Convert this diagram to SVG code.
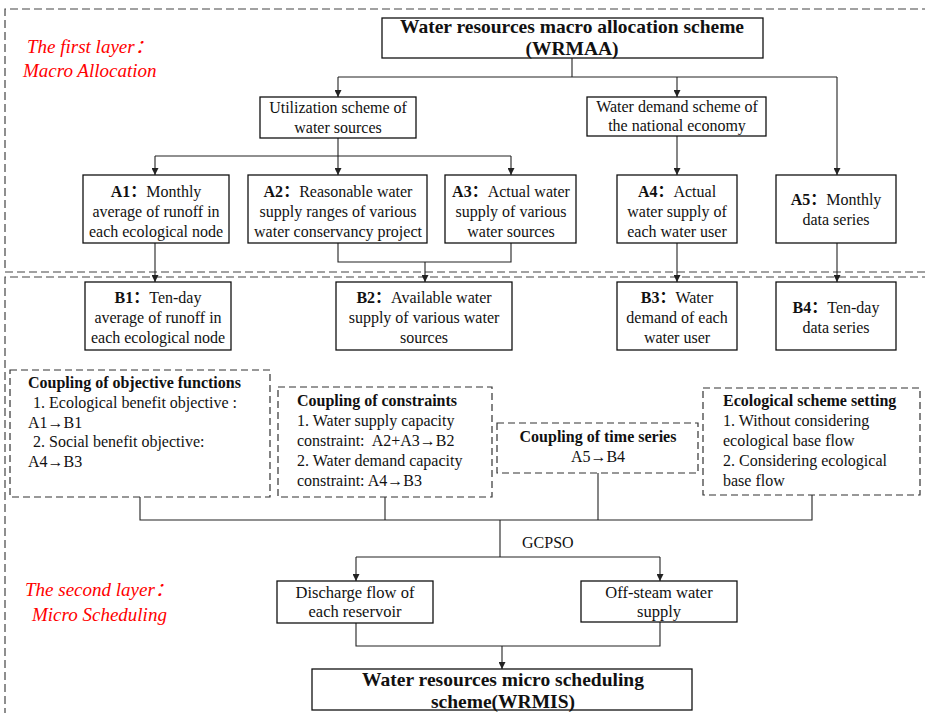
<svg xmlns="http://www.w3.org/2000/svg" width="925" height="713" viewBox="0 0 925 713" font-family="'Liberation Serif', 'Times New Roman', 'DejaVu Serif', serif">
<defs>
<marker id="ah" viewBox="0 0 10 10" refX="10" refY="5" markerWidth="7" markerHeight="7" markerUnits="userSpaceOnUse" orient="auto">
<path d="M0,0 L10,5 L0,10 z" fill="#222"/>
</marker>
<style>
text{fill:#111;}
.t{font-size:16px;text-anchor:middle;}
.l{font-size:16px;}
.s{font-size:16.5px;text-anchor:middle;}
.b{font-weight:bold;}
.cj{font-family:'Noto Sans CJK SC',sans-serif;font-weight:bold;}
.cjn{font-family:'Noto Sans CJK SC',sans-serif;font-weight:normal;}
.h{font-size:19.5px;font-weight:bold;text-anchor:middle;}
.red{font-size:19px;font-style:italic;fill:#f00;}
.box{fill:#fff;stroke:#111;stroke-width:1.3;}
.dbox{fill:#fff;stroke:#333;stroke-width:1.2;stroke-dasharray:7,4;}
.frame{fill:none;stroke:#444;stroke-width:1.2;stroke-dasharray:8,4;}
.c{fill:none;stroke:#222;stroke-width:1.1;}
</style>
</defs>
<rect width="925" height="713" fill="#fff"/>

<g id="frames">
<path class="frame" d="M930,9 H5 V272 H930"/>
<path class="frame" d="M930,277 H5 V720"/>
<text class="red" x="27" y="53">The first layer<tspan class="cjn">：</tspan></text>
<text class="red" x="23" y="77">Macro Allocation</text>
<text class="red" x="25" y="596">The second layer<tspan class="cjn">：</tspan></text>
<text class="red" x="32" y="621">Micro Scheduling</text>
</g>

<g id="connectors">
<path class="c" d="M572,58 V77"/>
<path class="c" d="M338,77 H837"/>
<path class="c" d="M338,77 V97" marker-end="url(#ah)"/>
<path class="c" d="M677,77 V97" marker-end="url(#ah)"/>
<path class="c" d="M837,77 V175" marker-end="url(#ah)"/>
<path class="c" d="M338,138 V156"/>
<path class="c" d="M155,156 H511"/>
<path class="c" d="M155,156 V175" marker-end="url(#ah)"/>
<path class="c" d="M338,156 V175" marker-end="url(#ah)"/>
<path class="c" d="M511,156 V175" marker-end="url(#ah)"/>
<path class="c" d="M677,136 V175" marker-end="url(#ah)"/>
<path class="c" d="M155,243 V282" marker-end="url(#ah)"/>
<path class="c" d="M338,243 V262 H511 V243"/>
<path class="c" d="M425,262 V282" marker-end="url(#ah)"/>
<path class="c" d="M677,243 V282" marker-end="url(#ah)"/>
<path class="c" d="M837,243 V282" marker-end="url(#ah)"/>
<path class="c" d="M140,497 V520 H812 V495"/>
<path class="c" d="M385,497 V520"/>
<path class="c" d="M598,473 V520"/>
<path class="c" d="M500,520 V557"/>
<path class="c" d="M356,557 H660"/>
<path class="c" d="M356,557 V581" marker-end="url(#ah)"/>
<path class="c" d="M660,557 V581" marker-end="url(#ah)"/>
<path class="c" d="M356,623 V646 H660 V622"/>
<path class="c" d="M502,646 V669" marker-end="url(#ah)"/>
<text class="l" x="522" y="548">GCPSO</text>
</g>

<g id="wrmaa">
<rect class="box" x="382" y="18" width="381" height="40"/>
<text class="h" x="572" y="33">Water resources macro allocation scheme</text>
<text class="h" x="572" y="55">(WRMAA)</text>
</g>

<g id="utilization">
<rect class="box" x="260" y="97" width="156" height="41"/>
<text class="t" x="338" y="113">Utilization scheme of</text>
<text class="t" x="338" y="133">water sources</text>
</g>

<g id="demand">
<rect class="box" x="587" y="97" width="179" height="39"/>
<text class="t" x="677" y="112">Water demand scheme of</text>
<text class="t" x="677" y="131">the national economy</text>
</g>

<g id="A1">
<rect class="box" x="83" y="175" width="146" height="68"/>
<text class="t" x="156" y="197"><tspan class="b">A1</tspan><tspan class="cj">：</tspan>Monthly</text>
<text class="t" x="156" y="217">average of runoff in</text>
<text class="t" x="156" y="237">each ecological node</text>
</g>

<g id="A2">
<rect class="box" x="248" y="175" width="179" height="68"/>
<text class="t" x="338" y="197"><tspan class="b">A2</tspan><tspan class="cj">：</tspan>Reasonable water</text>
<text class="t" x="338" y="217">supply ranges of various</text>
<text class="t" x="338" y="237">water conservancy project</text>
</g>

<g id="A3">
<rect class="box" x="445" y="175" width="131" height="68"/>
<text class="t" x="511" y="197"><tspan class="b">A3</tspan><tspan class="cj">：</tspan>Actual water</text>
<text class="t" x="511" y="217">supply of various</text>
<text class="t" x="511" y="237">water sources</text>
</g>

<g id="A4">
<rect class="box" x="617" y="175" width="120" height="68"/>
<text class="t" x="677" y="197"><tspan class="b">A4</tspan><tspan class="cj">：</tspan>Actual</text>
<text class="t" x="677" y="217">water supply of</text>
<text class="t" x="677" y="237">each water user</text>
</g>

<g id="A5">
<rect class="box" x="776" y="175" width="120" height="68"/>
<text class="t" x="836" y="205"><tspan class="b">A5</tspan><tspan class="cj">：</tspan>Monthly</text>
<text class="t" x="836" y="225">data series</text>
</g>

<g id="B1">
<rect class="box" x="85" y="282" width="146" height="68"/>
<text class="t" x="158" y="303"><tspan class="b">B1</tspan><tspan class="cj">：</tspan>Ten-day</text>
<text class="t" x="158" y="323">average of runoff in</text>
<text class="t" x="158" y="343">each ecological node</text>
</g>

<g id="B2">
<rect class="box" x="336" y="282" width="176" height="68"/>
<text class="t" x="424" y="303"><tspan class="b">B2</tspan><tspan class="cj">：</tspan>Available water</text>
<text class="t" x="424" y="323">supply of various water</text>
<text class="t" x="424" y="343">sources</text>
</g>

<g id="B3">
<rect class="box" x="617" y="282" width="120" height="68"/>
<text class="t" x="677" y="303"><tspan class="b">B3</tspan><tspan class="cj">：</tspan>Water</text>
<text class="t" x="677" y="323">demand of each</text>
<text class="t" x="677" y="343">water user</text>
</g>

<g id="B4">
<rect class="box" x="776" y="282" width="120" height="68"/>
<text class="t" x="836" y="313"><tspan class="b">B4</tspan><tspan class="cj">：</tspan>Ten-day</text>
<text class="t" x="836" y="333">data series</text>
</g>

<g id="objective">
<rect class="dbox" x="10" y="370" width="260" height="127"/>
<text class="l b" x="28" y="388">Coupling of objective functions</text>
<text class="l" x="33" y="408">1. Ecological benefit objective :</text>
<text class="l" x="28" y="428">A1→B1</text>
<text class="l" x="33" y="447">2. Social benefit objective:</text>
<text class="l" x="28" y="467">A4→B3</text>
</g>

<g id="constraints">
<rect class="dbox" x="278" y="387" width="214" height="110"/>
<text class="l b" x="297" y="406">Coupling of constraints</text>
<text class="l" x="297" y="426">1. Water supply capacity</text>
<text class="l" x="297" y="446" xml:space="preserve">constraint:  A2+A3→B2</text>
<text class="l" x="297" y="466">2. Water demand capacity</text>
<text class="l" x="297" y="486">constraint: A4→B3</text>
</g>

<g id="timeseries">
<rect class="dbox" x="497" y="423" width="201" height="50"/>
<text class="t b" x="598" y="442">Coupling of time series</text>
<text class="t" x="598" y="462">A5→B4</text>
</g>

<g id="ecological">
<rect class="dbox" x="703" y="388" width="217" height="107"/>
<text class="l b" x="723" y="406">Ecological scheme setting</text>
<text class="l" x="723" y="426">1. Without considering</text>
<text class="l" x="723" y="446">ecological base flow</text>
<text class="l" x="723" y="466">2. Considering ecological</text>
<text class="l" x="723" y="486">base flow</text>
</g>

<g id="discharge">
<rect class="box" x="277" y="581" width="156" height="42"/>
<text class="s" x="355" y="598">Discharge flow of</text>
<text class="s" x="355" y="617">each reservoir</text>
</g>

<g id="offstream">
<rect class="box" x="581" y="581" width="156" height="41"/>
<text class="s" x="659" y="598">Off-steam water</text>
<text class="s" x="659" y="617">supply</text>
</g>

<g id="wrmis">
<rect class="box" x="312" y="669" width="380" height="41"/>
<text class="h" x="503" y="686">Water resources micro scheduling</text>
<text class="h" x="503" y="708">scheme(WRMIS)</text>
</g>
</svg>
